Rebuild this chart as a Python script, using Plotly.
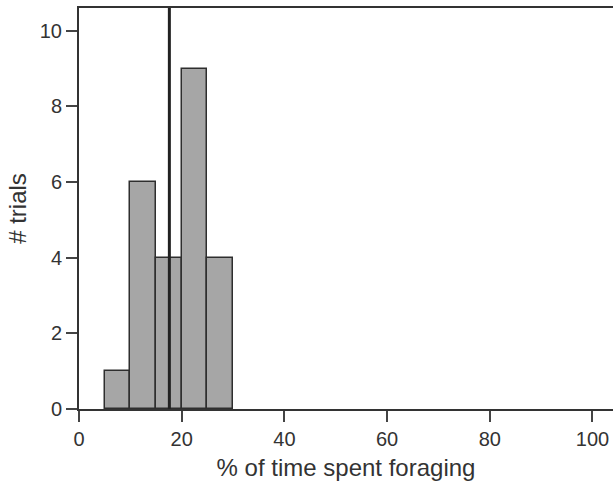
import plotly.graph_objects as go

bin_starts = [5, 10, 15, 20, 25]
bin_width = 5
counts = [1, 6, 4, 9, 4]
ref_line_x = 17.6

x_ticks = [0, 20, 40, 60, 80, 100]
y_ticks = [0, 2, 4, 6, 8, 10]

centers = [s + bin_width / 2 for s in bin_starts]

fig = go.Figure()
fig.add_trace(go.Bar(
    x=centers, y=counts, width=[bin_width] * len(counts),
    marker=dict(color="#a6a6a6", line=dict(color="#2e2e2e", width=1.5)),
    showlegend=False,
))
fig.add_shape(type="line", xref="x", yref="paper", x0=ref_line_x, x1=ref_line_x,
              y0=0, y1=1, line=dict(color="#222222", width=3))

font_family = "Liberation Sans, Arial, sans-serif"
fig.update_layout(
    width=613, height=485,
    margin=dict(l=79, r=0, t=8, b=76),
    paper_bgcolor="white", plot_bgcolor="white",
    font=dict(family=font_family, size=20, color="#333333"),
    bargap=0,
    xaxis=dict(range=[0, 104], tickvals=x_ticks, ticks="outside", ticklen=11,
               tickwidth=1.5, tickcolor="#444444", showline=True, linecolor="#333333",
               linewidth=2, mirror=True, showgrid=False, zeroline=False,
               title=dict(text="% of time spent foraging", standoff=10),
               tickfont=dict(size=20)),
    yaxis=dict(range=[0, 10.6], tickvals=y_ticks, ticks="outside", ticklen=11,
               tickwidth=1.5, tickcolor="#444444", showline=True, linecolor="#333333",
               linewidth=2, showgrid=False, zeroline=False,
               title=dict(text="# trials", standoff=6),
               tickfont=dict(size=20)),
)

fig.write_html("out.html")
